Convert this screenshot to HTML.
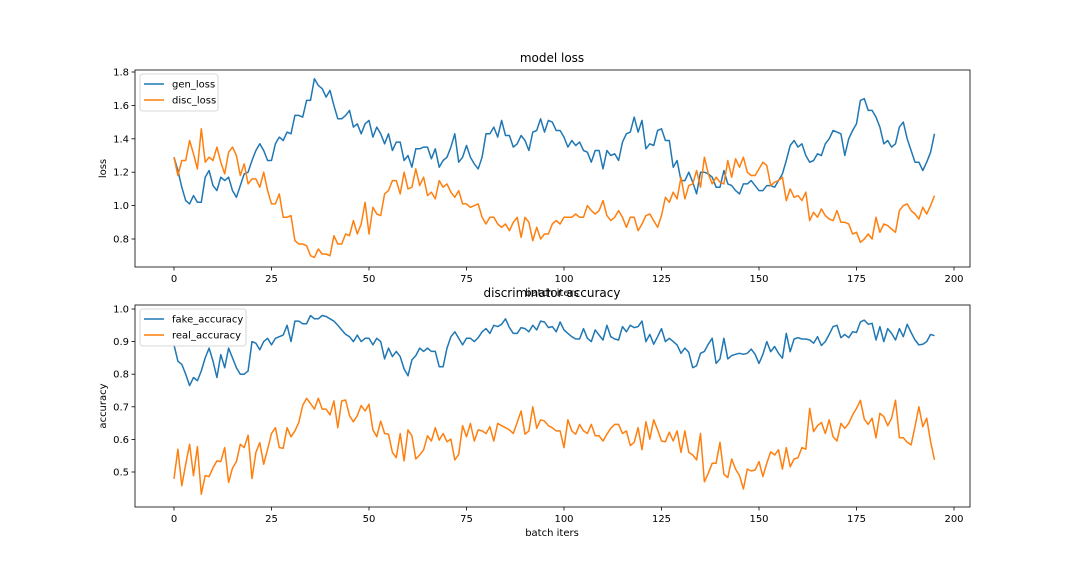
<!DOCTYPE html>
<html><head><meta charset="utf-8"><style>
body{margin:0;background:#fff;}
svg text{font-family:"DejaVu Sans","Liberation Sans",sans-serif;fill:#000;}
</style></head><body>
<svg id="fig" width="1080" height="576" viewBox="0 0 1080 576" xmlns="http://www.w3.org/2000/svg">
<rect width="1080" height="576" fill="#fff"/>
</svg>
<script>
const xTicks=[0,25,50,75,100,125,150,175,200];
const lossTicks=[0.8,1.0,1.2,1.4,1.6,1.8];
const accTicks=[0.5,0.6,0.7,0.8,0.9,1.0];
const genLoss=[1.29,1.21,1.11,1.03,1.01,1.06,1.02,1.02,1.17,1.21,1.12,1.09,1.17,1.15,1.17,1.09,1.05,1.12,1.19,1.20,1.27,1.33,1.37,1.33,1.27,1.27,1.37,1.41,1.39,1.44,1.43,1.54,1.54,1.53,1.63,1.63,1.76,1.72,1.70,1.65,1.69,1.60,1.52,1.52,1.54,1.57,1.47,1.49,1.43,1.49,
1.51,1.41,1.47,1.43,1.37,1.43,1.33,1.38,1.38,1.27,1.30,1.23,1.34,1.34,1.35,1.35,1.28,1.34,1.23,1.27,1.29,1.35,1.43,1.26,1.29,1.36,1.29,1.25,1.22,1.29,1.43,1.43,1.47,1.41,1.51,1.42,1.42,1.35,1.37,1.42,1.39,1.33,1.44,1.45,1.52,1.44,1.51,1.50,
1.45,1.45,1.41,1.35,1.39,1.36,1.38,1.33,1.32,1.26,1.33,1.33,1.22,1.33,1.30,1.31,1.27,1.38,1.43,1.44,1.53,1.44,1.51,1.34,1.37,1.36,1.45,1.46,1.39,1.39,1.23,1.27,1.15,1.15,1.20,1.14,1.07,1.20,1.20,1.19,1.17,1.11,1.11,1.21,1.13,1.12,1.09,1.07,1.13,1.13,
1.15,1.12,1.09,1.09,1.12,1.12,1.11,1.15,1.19,1.27,1.36,1.39,1.35,1.37,1.30,1.26,1.27,1.31,1.30,1.37,1.40,1.45,1.44,1.43,1.30,1.40,1.45,1.49,1.63,1.64,1.57,1.57,1.53,1.47,1.37,1.39,1.35,1.37,1.47,1.50,1.40,1.33,1.26,1.26,1.21,1.26,1.32,1.43];
const discLoss=[1.29,1.18,1.27,1.27,1.39,1.31,1.22,1.46,1.26,1.29,1.27,1.35,1.26,1.19,1.32,1.35,1.30,1.18,1.25,1.13,1.16,1.16,1.11,1.20,1.09,1.01,1.01,1.07,0.93,0.93,0.94,0.79,0.77,0.77,0.76,0.70,0.69,0.74,0.71,0.71,0.70,0.82,0.77,0.77,0.83,0.82,0.91,0.83,0.89,1.02,
0.83,0.99,0.95,0.94,1.07,1.09,1.15,1.15,1.07,1.20,1.10,1.11,1.22,1.12,1.17,1.06,1.08,1.04,1.15,1.11,1.13,1.08,1.05,1.09,1.01,1.01,0.99,1.00,1.01,0.93,0.89,0.93,0.93,0.89,0.87,0.89,0.85,0.90,0.93,0.81,0.93,0.90,0.79,0.87,0.80,0.83,0.83,0.89,
0.91,0.89,0.93,0.93,0.93,0.95,0.93,0.93,1.00,0.97,0.95,0.97,1.03,0.94,0.91,0.93,0.97,0.93,0.87,0.93,0.93,0.85,0.89,0.94,0.95,0.91,0.87,0.94,1.05,1.02,1.08,1.04,1.17,1.04,1.12,1.13,1.21,1.11,1.29,1.19,1.13,1.17,1.14,1.13,1.27,1.17,1.28,1.23,1.29,1.20,
1.18,1.18,1.22,1.26,1.24,1.12,1.14,1.15,1.17,1.03,1.10,1.05,1.06,1.03,1.08,0.91,0.96,0.93,0.98,0.94,0.92,0.91,0.97,0.90,0.90,0.89,0.83,0.84,0.78,0.80,0.83,0.80,0.93,0.84,0.89,0.88,0.86,0.84,0.97,1.00,1.01,0.97,0.95,0.92,0.99,0.95,1.00,1.06];
const fakeAcc=[0.89,0.84,0.83,0.80,0.765,0.79,0.78,0.81,0.85,0.88,0.84,0.79,0.86,0.82,0.88,0.85,0.82,0.80,0.80,0.81,0.90,0.895,0.875,0.90,0.91,0.89,0.91,0.915,0.92,0.95,0.90,0.963,0.963,0.955,0.955,0.98,0.97,0.97,0.98,0.977,0.97,0.963,0.95,0.936,0.922,0.915,0.90,0.92,0.90,0.91,
0.91,0.89,0.91,0.90,0.847,0.88,0.854,0.87,0.854,0.816,0.795,0.844,0.857,0.88,0.87,0.88,0.87,0.87,0.823,0.823,0.88,0.915,0.93,0.91,0.89,0.91,0.91,0.90,0.912,0.93,0.94,0.925,0.95,0.946,0.953,0.97,0.943,0.925,0.925,0.943,0.94,0.93,0.95,0.936,0.963,0.96,0.943,0.946,
0.93,0.96,0.936,0.925,0.915,0.908,0.908,0.94,0.91,0.90,0.936,0.92,0.905,0.95,0.915,0.908,0.905,0.946,0.93,0.95,0.943,0.946,0.963,0.90,0.922,0.892,0.915,0.94,0.90,0.91,0.90,0.89,0.864,0.88,0.867,0.82,0.826,0.864,0.87,0.892,0.91,0.833,0.847,0.91,0.847,0.857,0.861,0.864,0.861,0.864,
0.877,0.861,0.833,0.861,0.90,0.869,0.885,0.864,0.849,0.925,0.869,0.908,0.912,0.908,0.908,0.905,0.895,0.915,0.888,0.90,0.922,0.946,0.95,0.912,0.922,0.912,0.93,0.928,0.96,0.966,0.953,0.956,0.905,0.946,0.90,0.94,0.925,0.905,0.94,0.915,0.953,0.928,0.905,0.89,0.892,0.90,0.922,0.918];
const realAcc=[0.479,0.57,0.458,0.524,0.585,0.489,0.578,0.432,0.489,0.486,0.513,0.534,0.532,0.575,0.468,0.512,0.532,0.585,0.575,0.613,0.48,0.56,0.59,0.524,0.57,0.618,0.636,0.575,0.573,0.636,0.608,0.626,0.652,0.704,0.726,0.71,0.693,0.726,0.693,0.693,0.675,0.718,0.636,0.718,0.721,0.673,0.654,0.673,0.704,0.687,
0.708,0.629,0.608,0.656,0.618,0.616,0.56,0.544,0.618,0.534,0.629,0.611,0.54,0.552,0.568,0.611,0.595,0.636,0.598,0.618,0.593,0.601,0.537,0.554,0.642,0.608,0.649,0.595,0.629,0.626,0.618,0.639,0.595,0.649,0.642,0.636,0.629,0.618,0.652,0.687,0.616,0.626,0.70,0.634,0.66,0.656,0.642,0.636,
0.626,0.626,0.575,0.66,0.626,0.616,0.646,0.626,0.618,0.646,0.611,0.611,0.595,0.616,0.634,0.646,0.646,0.618,0.626,0.581,0.591,0.636,0.568,0.654,0.601,0.66,0.629,0.595,0.593,0.622,0.595,0.626,0.56,0.626,0.56,0.552,0.537,0.618,0.47,0.496,0.527,0.527,0.591,0.493,0.483,0.54,0.509,0.489,0.448,0.509,
0.503,0.506,0.532,0.486,0.527,0.562,0.552,0.568,0.509,0.575,0.516,0.54,0.544,0.575,0.57,0.695,0.624,0.642,0.652,0.618,0.66,0.608,0.595,0.649,0.634,0.649,0.675,0.695,0.72,0.662,0.646,0.665,0.605,0.68,0.67,0.642,0.665,0.72,0.605,0.605,0.591,0.583,0.639,0.70,0.639,0.665,0.593,0.537];

const NS="http://www.w3.org/2000/svg";
const svg=document.getElementById('fig');
function mk(tag,attrs,parent){const e=document.createElementNS(NS,tag);for(const k in attrs)e.setAttribute(k,attrs[k]);(parent||svg).appendChild(e);return e;}
const X0=135,X1=970;
const xs=v=>174+v*3.9;

function panel(cfg){
  const g=mk('g',{});
  
  
  const ys=cfg.ys;
  // series
  cfg.series.forEach(s=>{
    const d=s.data.map((v,i)=>(i?'L':'M')+xs(i).toFixed(1)+' '+ys(v).toFixed(1)).join(' ');
    const p=mk('path',{d:d,fill:'none',stroke:s.color,'stroke-width':1.5,'stroke-linejoin':'round'},g);
    
    
  });
  // frame
  const fr=mk('rect',{x:X0,y:cfg.top,width:X1-X0,height:cfg.bot-cfg.top,fill:'none',stroke:'#000','stroke-width':0.8},g);
  
  
  xTicks.forEach(t=>{
    const x=xs(t);
    mk('line',{x1:x,x2:x,y1:cfg.bot,y2:cfg.bot+3.5,stroke:'#000','stroke-width':0.8},g);
    const tx=mk('text',{x:x,y:cfg.bot+15,'font-size':10,'text-anchor':'middle'},g);
    tx.textContent=t;
    
    
  });
  cfg.yTicks.forEach(t=>{
    const y=ys(t);
    mk('line',{x1:X0-3.5,x2:X0,y1:y,y2:y,stroke:'#000','stroke-width':0.8},g);
    const tx=mk('text',{x:X0-6,y:y+3.5,'font-size':10,'text-anchor':'end'},g);
    tx.textContent=t.toFixed(1);
    
    
  });
  const ti=mk('text',{x:552,y:cfg.top-8,'font-size':12,'text-anchor':'middle'},g);
  ti.textContent=cfg.title;
  
  
  const xl=mk('text',{x:552,y:cfg.bot+29,'font-size':10,'text-anchor':'middle'},g);
  xl.textContent='batch iters';
  
  
  const cy=(cfg.top+cfg.bot)/2;
  const yl=mk('text',{x:106,y:cy,'font-size':10,'text-anchor':'middle',transform:'rotate(-90 106 '+cy+')'},g);
  yl.textContent=cfg.ylabel;
  
  
  // legend
  const lg=mk('g',{},g);
  
  
  mk('rect',{x:140,y:cfg.top+4,width:cfg.legW,height:37,rx:2.5,fill:'#fff','fill-opacity':0.8,stroke:'#ccc','stroke-width':0.8},lg);
  cfg.series.forEach((s,i)=>{
    const y=cfg.top+14+i*16;
    const en=mk('g',{},lg);
    
    
    mk('line',{x1:144,x2:164,y1:y,y2:y,stroke:s.color,'stroke-width':1.5},en);
    const t=mk('text',{x:172,y:y+3.5,'font-size':10},en);
    t.textContent=s.label;
  });
}
panel({name:'loss-chart',id:'loss',top:70,bot:267,ys:v=>239-(v-0.8)*167,yTicks:lossTicks,title:'model loss',ylabel:'loss',legW:78,
  series:[{id:'gen-loss',label:'gen_loss',data:genLoss,color:'#1f77b4'},{id:'disc-loss',label:'disc_loss',data:discLoss,color:'#ff7f0e'}]});
panel({name:'accuracy-chart',id:'accuracy',top:305,bot:507,ys:v=>472-(v-0.5)*326,yTicks:accTicks,title:'discriminator accuracy',ylabel:'accuracy',legW:106,
  series:[{id:'fake-accuracy',label:'fake_accuracy',data:fakeAcc,color:'#1f77b4'},{id:'real-accuracy',label:'real_accuracy',data:realAcc,color:'#ff7f0e'}]});
</script>
</body></html>
